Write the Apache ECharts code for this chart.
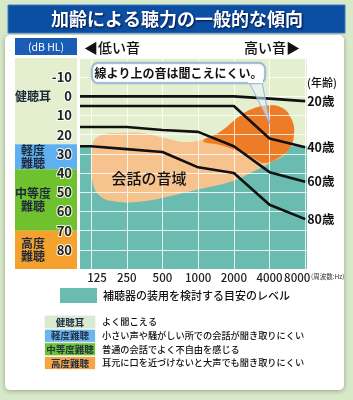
<!DOCTYPE html>
<html><head><meta charset="utf-8">
<script src="https://cdn.jsdelivr.net/npm/echarts@6/dist/echarts.min.js"></script>
<style>html,body{margin:0;padding:0;background:#d7e9c9;}#c{width:353px;height:400px;}</style>
</head><body><div id="c"></div>
<script>
// ---- data ----
const freqLabels = ['125','250','500','1000','2000','4000','8000'];
const ages = ['20歳','40歳','60歳','80歳'];
const age20 = [0, 0, 0, 0, 0, 1.2, 2.5];
const age40 = [5, 5, 5, 5, 5, 22, 26.5];
const age60 = [16, 16, 17.5, 18.5, 26, 39.5, 44.5];
const age80 = [26, 27.5, 29, 37, 40, 56.5, 64];
const bandNames = ['健聴耳', '軽度\n難聴', '中等度\n難聴', '高度\n難聴'];
const bandRanges = [[-20, 25], [25, 38], [38, 70], [70, 90]];
const hearingAidLevel = 26;
// speech area outlines: [octave index from 125Hz, dB HL]
const speechLight = [[0,33.2],[0.06,23.8],[0.31,20.1],[0.81,19.1],[1.51,19.3],[2.07,21.7],[2.72,23.8],[3.39,20.6],[4.03,14.9],[4.87,11.3],[5.43,16.5],[5.52,27.9],[5.01,34.7],[4.51,39.4],[3.98,44.1],[3.05,48.3],[2.16,52.2],[1.43,54.8],[0.67,54.8],[0.22,51.4],[0.03,43.6]];
const speechDark = [[3.14,23.3],[3.61,18.6],[4.17,10.2],[4.59,6.0],[4.96,4.7],[5.35,6.0],[5.60,11.3],[5.69,19.1],[5.55,27.4],[5.24,32.1],[4.87,34.7],[4.59,32.6],[4.12,28.5],[3.61,25.3]];
const legendNames = ['健聴耳','軽度難聴','中等度難聴','高度難聴'];
const legendTexts = ['よく聞こえる','小さい声や騒がしい所での会話が聞き取りにくい','普通の会話でよく不自由を感じる','耳元に口を近づけないと大声でも聞き取りにくい'];

// ---- styles ----
const FONT = '"Noto Sans CJK JP", "Noto Sans", sans-serif';
const bandColors = ['#e3efcf', '#5fb0f0', '#6fc22e', '#f5a12e'];
const legendColors = ['#d8ebcf', '#6cb6ee', '#6cc42c', '#f7a541'];
const teal = '#6abcb0';
const XMIN = -0.31, XMAX = 6.05;

const chart = echarts.init(document.getElementById('c'), null, {renderer: 'canvas'});

function lineSeries(name, vals) {
  const data = [[XMIN, vals[0]]].concat(vals.map((v, i) => [i, v]));
  return {
    type: 'line', name, data, xAxisIndex: 0, yAxisIndex: 0, z: 5,
    symbol: 'none', silent: true,
    lineStyle: {color: '#111', width: 2.6},
    endLabel: {show: true, formatter: '{a}', distance: 2, fontFamily: FONT,
      fontSize: 12.5, fontWeight: 'bold', color: '#111'}
  };
}

function polySeries(pts, color) {
  return {
    type: 'custom', xAxisIndex: 0, yAxisIndex: 0, z: 2, silent: true,
    data: [[0, 0]],
    renderItem: (params, api) => ({
      type: 'polygon',
      shape: {points: pts.map(p => api.coord(p)), smooth: 0.45},
      style: {fill: color}
    })
  };
}

const ticks = freqLabels.map((_, i) => i);
const lastTick = ticks.length - 1;
const tickLabelStyle = {fontSize: 11.5, color: '#222', fontWeight: 500, fontFamily: FONT};

const option = {
  animation: false,
  textStyle: {fontFamily: FONT},
  grid: [
    {left: 80, width: 227, top: 58, height: 211, show: true, backgroundColor: '#e3efcf', borderWidth: 0},
    {left: 15, width: 62, top: 58, height: 211, show: false}
  ],
  xAxis: [
    {type: 'value', gridIndex: 0, min: XMIN, max: XMAX, z: 3,
     axisLine: {show: false},
     axisTick: {show: false, customValues: ticks},
     splitLine: {show: true, lineStyle: {color: 'rgba(255,255,255,0.8)', width: 1}},
     axisLabel: Object.assign({customValues: ticks, margin: 3,
       showMinLabel: true, showMaxLabel: true,
       formatter: v => {
         const i = Math.round(v);
         if (i === 0) return '{first|' + freqLabels[i] + '}';
         if (i === lastTick) return '{last|' + freqLabels[i] + '}';
         return freqLabels[i];
       },
       rich: {
         first: Object.assign({padding: [0, 0, 0, 12]}, tickLabelStyle),
         last: Object.assign({padding: [0, 16, 0, 0]}, tickLabelStyle)
       }}, tickLabelStyle)},
    {type: 'value', gridIndex: 1, min: 0, max: 1, show: false}
  ],
  yAxis: [
    {type: 'value', gridIndex: 0, min: -20, max: 90, interval: 10, inverse: true, z: 3,
     axisLine: {show: false}, axisTick: {show: false},
     splitLine: {show: true, lineStyle: {color: 'rgba(255,255,255,0.8)', width: 1}},
     axisLabel: {formatter: v => (v <= -20 || v >= 90) ? '' : String(v), margin: 8,
       fontSize: 13, fontWeight: 'bold', color: '#222',
       textBorderColor: 'rgba(255,255,255,0.85)', textBorderWidth: 2}},
    {type: 'value', gridIndex: 1, min: -20, max: 90, inverse: true, show: false}
  ],
  series: [
    {type: 'scatter', xAxisIndex: 0, yAxisIndex: 0, data: [[0, 0]], symbolSize: 0, silent: true,
     markArea: {silent: true, itemStyle: {color: teal},
       data: [[{yAxis: hearingAidLevel}, {yAxis: 90}]]}},
    {type: 'scatter', xAxisIndex: 1, yAxisIndex: 1, data: [[0, 0]], symbolSize: 0, silent: true,
     markArea: {silent: true,
       data: bandRanges.map((r, i) => [
         {yAxis: r[0], itemStyle: {color: bandColors[i]},
          label: {show: true, formatter: bandNames[i], position: [18, i === 0 ? '45%' : '50%'],
            align: 'center', verticalAlign: 'middle', fontSize: 12, fontWeight: 'bold',
            color: '#1e2a3a', lineHeight: 13.5, fontFamily: FONT}},
         {yAxis: r[1]}
       ])}},
    polySeries(speechLight, '#f6c28e'),
    polySeries(speechDark, '#ee7b25'),
    lineSeries(ages[0], age20),
    lineSeries(ages[1], age40),
    lineSeries(ages[2], age60),
    lineSeries(ages[3], age80)
  ],
  graphic: [
    {type: 'rect', z: -5, shape: {x: 5, y: 35, width: 339, height: 355, r: 5},
     style: {fill: '#fff', shadowBlur: 5, shadowColor: 'rgba(0,0,0,0.3)', shadowOffsetY: 1}},
    {type: 'rect', z: 10, shape: {x: 8, y: 5, width: 337, height: 28},
     style: {fill: '#0b4ea2', stroke: '#3d78c4', lineWidth: 1}},
    {type: 'text', z: 11, x: 177, y: 19,
     style: {text: '加齢による聴力の一般的な傾向', fill: '#fff', fontSize: 18, fontWeight: 'bold',
       fontFamily: FONT, align: 'center', verticalAlign: 'middle',
       textShadowColor: 'rgba(0,0,40,0.8)', textShadowBlur: 2, textShadowOffsetX: 1, textShadowOffsetY: 1}},
    {type: 'rect', z: 10, shape: {x: 15, y: 38, width: 62, height: 17},
     style: {fill: '#1b5cb5'}},
    {type: 'text', z: 11, x: 46, y: 47,
     style: {text: '(dB HL)', fill: '#fff', fontSize: 10.5, fontFamily: FONT, align: 'center', verticalAlign: 'middle'}},
    {type: 'text', z: 10, x: 84, y: 48,
     style: {text: '◀低い音', fill: '#111', fontSize: 14, fontWeight: 500, fontFamily: FONT, verticalAlign: 'middle'}},
    {type: 'text', z: 10, x: 300, y: 48,
     style: {text: '高い音▶', fill: '#111', fontSize: 14, fontWeight: 500, fontFamily: FONT, align: 'right', verticalAlign: 'middle'}},
    {type: 'text', z: 10, x: 322, y: 83,
     style: {text: '(年齢)', fill: '#111', fontSize: 11, fontWeight: 500, fontFamily: FONT, align: 'center', verticalAlign: 'middle'}},
    // callout
    {type: 'polygon', z: 12, shape: {points: [[249, 82], [262, 82], [270, 124]]},
     style: {fill: 'rgba(235,244,255,0.55)', stroke: '#8fb6e2', lineWidth: 1}},
    {type: 'rect', z: 12, shape: {x: 92, y: 63, width: 173, height: 20, r: 6},
     style: {fill: '#fff', stroke: '#8fb6e2', lineWidth: 1.5, shadowBlur: 2, shadowColor: 'rgba(0,0,0,0.2)'}},
    {type: 'rect', z: 13, shape: {x: 248, y: 80, width: 15, height: 3},
     style: {fill: '#fff'}},
    {type: 'text', z: 14, x: 178.5, y: 73.5,
     style: {text: '線より上の音は聞こえにくい。', fill: '#111', fontSize: 12, fontWeight: 'bold',
       fontFamily: FONT, align: 'center', verticalAlign: 'middle'}},
    {type: 'text', z: 10, x: 149, y: 178,
     style: {text: '会話の音域', fill: '#111', fontSize: 15, fontWeight: 500, fontFamily: FONT,
       align: 'center', verticalAlign: 'middle'}},
    {type: 'text', z: 10, x: 311, y: 277,
     style: {text: '(周波数:Hz)', fill: '#333', fontSize: 6.5, fontFamily: FONT, verticalAlign: 'middle'}},
    // hearing aid legend
    {type: 'rect', z: 10, shape: {x: 60, y: 288, width: 37, height: 15}, style: {fill: teal}},
    {type: 'text', z: 10, x: 103, y: 295.5,
     style: {text: '補聴器の装用を検討する目安のレベル', fill: '#111', fontSize: 11, fontWeight: 500,
       fontFamily: FONT, verticalAlign: 'middle'}}
  ].concat(legendNames.flatMap((n, i) => {
    const cy = [322, 335.7, 349.2, 363][i];
    return [
      {type: 'rect', z: 10, shape: {x: 45, y: cy - 6, width: 50, height: 12},
       style: {fill: legendColors[i], shadowBlur: 2, shadowColor: 'rgba(0,0,0,0.15)'}},
      {type: 'text', z: 11, x: 70, y: cy,
       style: {text: n, fill: '#23324a', fontSize: 9.5, fontWeight: 'bold', fontFamily: FONT,
         align: 'center', verticalAlign: 'middle'}},
      {type: 'text', z: 11, x: 102, y: cy,
       style: {text: legendTexts[i], fill: '#111', fontSize: 9.2, fontWeight: 500, fontFamily: FONT,
         verticalAlign: 'middle'}}
    ];
  }))
};
chart.setOption(option);
</script>
</body></html>
